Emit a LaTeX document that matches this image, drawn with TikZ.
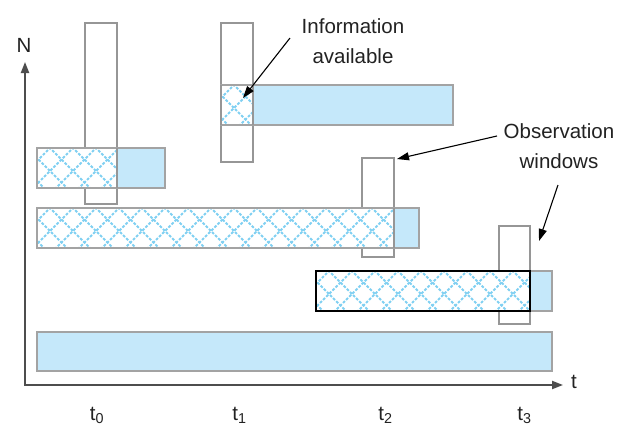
\documentclass[tikz,border=0pt]{standalone}
\usepackage{fontspec}
\setmainfont{Liberation Sans}
\usetikzlibrary{arrows.meta}
\definecolor{barblue}{HTML}{C5E8FA}
\definecolor{hatchblue}{HTML}{80D0F2}
\definecolor{bargray}{HTML}{A3A3A3}
\definecolor{wingray}{HTML}{969696}
\definecolor{axisgray}{HTML}{4D4D4D}
\definecolor{txt}{HTML}{222222}
\tikzset{
  hatch/.style={draw=hatchblue, line width=1.8pt, dash pattern=on 2.8pt off 1.6pt},
  win/.style={draw=wingray, line width=2.8pt, inner sep=0pt, fill=none},
  barborder/.style={draw=bargray, line width=1.5pt},
  sepline/.style={draw=wingray, line width=2.8pt},
  axisline/.style={draw=axisgray, line width=2pt},
  lbl/.style={font=\fontsize{20.5}{29.5}\selectfont, text=txt, inner sep=0pt},
  callout/.style={draw=black, line width=1.1pt, -{Triangle[length=12pt,width=8pt]}},
}
\newcommand{\hatchfill}[5]{%
  \begin{scope}
    \clip (#1,#2) rectangle (#3,#4);
    \fill[white] (#1,#2) rectangle (#3,#4);
    \foreach \k in {-3,...,#5} {
      \draw[hatch] ({#1+13+\k*23-60},{#2-60}) -- ++(120,120);
      \draw[hatch] ({#1+13+\k*23-60},{#2+60}) -- ++(120,-120);
    }
  \end{scope}}
\begin{document}
\begin{tikzpicture}[x=1pt,y=-1pt]
\useasboundingbox (0,0) rectangle (633,426);
\clip (0,0) rectangle (633,426);
\fill[white] (0,0) rectangle (633,426);

% observation windows
\node[win, minimum width=32pt, minimum height=181pt] (w0) at (101,113.5) {};
\node[win, minimum width=32pt, minimum height=139pt] (w1) at (237,92.5) {};
\node[win, minimum width=32pt, minimum height=99pt] (w2) at (378,207.5) {};
\node[win, minimum width=31pt, minimum height=98pt] (w3) at (514.5,275) {};

% bar A
\hatchfill{37}{148}{117}{188}{6}
\fill[barblue] (117,148) rectangle (165,188);
\draw[barborder] (37,148) rectangle (165,188);
\draw[sepline] (117,148) -- (117,188);
% bar B
\hatchfill{221}{85}{253}{125}{4}
\fill[barblue] (253,85) rectangle (453,125);
\draw[barborder] (221,85) rectangle (453,125);
\draw[sepline] (253,85) -- (253,125);
\draw[sepline] (221,85) -- (221,125);
% bar C
\hatchfill{37}{208}{394}{248}{18}
\fill[barblue] (394,208) rectangle (419,248);
\draw[barborder] (37,208) rectangle (419,248);
\draw[sepline] (394,208) -- (394,248);
% bar D
\hatchfill{316}{271}{530}{311}{12}
\fill[barblue] (530,271) rectangle (552,311);
\draw[barborder] (316,271) rectangle (552,311);
\draw[black, line width=1.3pt] (316,271) rectangle (530,311);
% bar E
\fill[barblue] (37,332) rectangle (552,371);
\draw[barborder] (37,332) rectangle (552,371);

% axes
\coordinate (ytip) at (25,62);
\coordinate (origin) at (25,385);
\coordinate (xtip) at (563,385);
\draw[axisline, {Triangle[length=11pt,width=8pt]}-{Triangle[length=11pt,width=8pt]}] (ytip) -- (origin) -- (xtip);
\node[lbl, anchor=base] (nlab) at (24,52) {N};
\node[lbl, anchor=base] (tlab) at (574,388) {t};
\node[lbl, anchor=base] (t0) at (97,420.5) {t\textsubscript{0}};
\node[lbl, anchor=base] (t1) at (239.5,420.5) {t\textsubscript{1}};
\node[lbl, anchor=base] (t2) at (385.5,420.5) {t\textsubscript{2}};
\node[lbl, anchor=base] (t3) at (524.5,420.5) {t\textsubscript{3}};

% callouts
\node[lbl, align=center] (info) at (353,41) {Information\\available};
\node[lbl, align=center] (obs) at (559,146) {Observation\\windows};
\coordinate (infostart) at (290,38);
\coordinate (infotip) at (243,98);
\coordinate (obsstartA) at (497,136);
\coordinate (obstipA) at (397,159);
\coordinate (obsstartB) at (558,185);
\coordinate (obstipB) at (539,241);
\draw[callout] (infostart) -- (infotip);
\draw[callout] (obsstartA) -- (obstipA);
\draw[callout] (obsstartB) -- (obstipB);
\end{tikzpicture}
\end{document}
